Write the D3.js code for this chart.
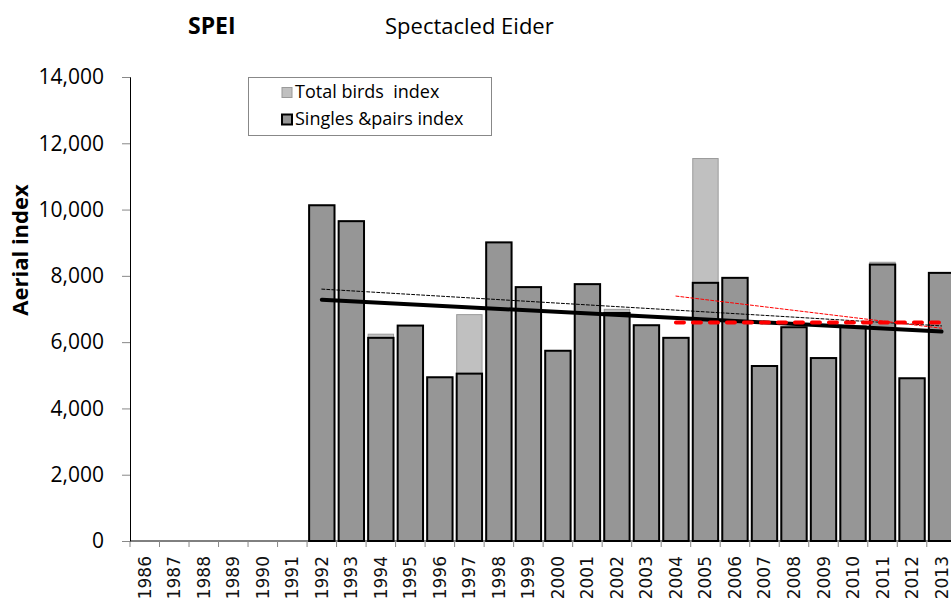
<!DOCTYPE html>
<html>
<head>
<meta charset="utf-8">
<script src="https://cdn.jsdelivr.net/npm/d3@7"></script>
<style>
  body { margin: 0; background: #fff; }
  svg { display: block; }
</style>
</head>
<body>
<div id="chart"></div>
<script>
// Data
// ==============================
var years = ["1986","1987","1988","1989","1990","1991","1992","1993","1994","1995","1996","1997","1998","1999",
             "2000","2001","2002","2003","2004","2005","2006","2007","2008","2009","2010","2011","2012","2013"];

// total birds index (null = no survey)
var totalBirds = [null,null,null,null,null,null,10130,9650,6240,6500,4940,6830,9010,7660,
                  5740,7750,6990,6510,6130,11540,7940,5280,6450,5520,6470,8410,4910,8090];

// singles & pairs index
var singlesPairs = [null,null,null,null,null,null,10130,9650,6130,6500,4940,5050,9010,7660,
                    5740,7750,6880,6510,6130,7790,7940,5280,6450,5520,6470,8340,4910,8090];

// trend lines: [start year, start value, end year, end value]
var trendSingles = ["1992", 7280, "2013", 6320];
var trendTotal = ["1992", 7600, "2013", 6490];
var trendTotalRecent = ["2004", 7390, "2013", 6420];
var trendSinglesRecent = ["2004", 6590, "2013", 6590];

var yTicks = [0, 2000, 4000, 6000, 8000, 10000, 12000, 14000];

// SVG area
// ==============================
var svgWidth = 951;
var svgHeight = 602;

var svg = d3.select("#chart")
  .append("svg")
  .attr("width", svgWidth)
  .attr("height", svgHeight);

var calibri = "'Open Sans', 'Liberation Sans', sans-serif";

// Scales
// ==============================
var xScale = d3.scaleBand()
  .domain(years)
  .range([130, 956.3])
  .paddingInner(0.14)
  .paddingOuter(0.07);

var yScale = d3.scaleLinear()
  .domain([0, 14000])
  .range([541, 77]);

var xCenter = function(yr) { return xScale(yr) + xScale.bandwidth() / 2; };

// Bars: total birds behind, singles & pairs in front
// ==============================
var rows = years.map(function(y, i) {
  return { year: y, total: totalBirds[i], singles: singlesPairs[i] };
});

svg.append("g").selectAll("rect")
  .data(rows.filter(d => d.total != null))
  .join("rect")
  .attr("x", d => xScale(d.year))
  .attr("y", d => yScale(d.total))
  .attr("width", xScale.bandwidth())
  .attr("height", d => yScale(0) - yScale(d.total))
  .attr("fill", "#c0c0c0")
  .attr("stroke", "#9a9a9a")
  .attr("stroke-width", 1);

svg.append("g").selectAll("rect")
  .data(rows.filter(d => d.singles != null))
  .join("rect")
  .attr("x", d => xScale(d.year))
  .attr("y", d => yScale(d.singles))
  .attr("width", xScale.bandwidth())
  .attr("height", d => yScale(0) - yScale(d.singles))
  .attr("fill", "#969696")
  .attr("stroke", "#000")
  .attr("stroke-width", 2);

// Axes
// ==============================
var yAxis = d3.axisLeft(yScale)
  .tickValues(yTicks)
  .tickSize(8)
  .tickFormat(d3.format(","));

var yAxisGroup = svg.append("g")
  .attr("transform", "translate(130,0)")
  .call(yAxis);
yAxisGroup.select(".domain").attr("stroke", "#000").attr("stroke-width", 1);
yAxisGroup.selectAll(".tick line").attr("stroke", "#888");
yAxisGroup.selectAll("text")
  .attr("x", -26)
  .attr("font-family", calibri)
  .attr("font-size", "21px")
  .attr("fill", "#000");

// x axis: ticks sit on category boundaries
var xAxisGroup = svg.append("g")
  .attr("transform", "translate(0,541)");
xAxisGroup.append("line")
  .attr("x1", 130).attr("x2", 956.3)
  .attr("stroke", "#000");
xAxisGroup.selectAll(".bt")
  .data(years)
  .join("line")
  .attr("class", "bt")
  .attr("x1", d => xScale(d) - xScale.step() * 0.07)
  .attr("x2", d => xScale(d) - xScale.step() * 0.07)
  .attr("y1", 0).attr("y2", 6)
  .attr("stroke", "#888");
xAxisGroup.selectAll("text")
  .data(years)
  .join("text")
  .attr("transform", d => `translate(${xCenter(d) + 6}, 15) rotate(-90)`)
  .attr("text-anchor", "end")
  .attr("font-family", "'DejaVu Sans', sans-serif")
  .attr("font-size", "17px")
  .attr("fill", "#111")
  .text(d => d);

// Trend lines
// ==============================
function trend(t, color, width, dash) {
  svg.append("line")
    .attr("x1", xCenter(t[0])).attr("y1", yScale(t[1]))
    .attr("x2", xCenter(t[2])).attr("y2", yScale(t[3]))
    .attr("stroke", color)
    .attr("stroke-width", width)
    .attr("stroke-dasharray", dash)
    .attr("stroke-linecap", "round");
}
trend(trendTotal, "#000", 1, "3,2");
trend(trendTotalRecent, "#ff0000", 1, "3,2");
trend(trendSingles, "#000", 4, null);
trend(trendSinglesRecent, "#ff0000", 4, "8,9");

// Legend
// ==============================
var legend = svg.append("g");
legend.append("rect")
  .attr("x", 248.5).attr("y", 77.5)
  .attr("width", 243).attr("height", 58)
  .attr("fill", "#fff")
  .attr("stroke", "#888");

var legendItems = [
  { label: "Total birds\u00a0 index", fill: "#c0c0c0", stroke: "#9a9a9a", sw: 1, y: 92 },
  { label: "Singles &pairs index", fill: "#969696", stroke: "#000", sw: 2, y: 119 }
];
legendItems.forEach(function(it) {
  legend.append("rect")
    .attr("x", 282).attr("y", it.y - 4.5)
    .attr("width", 10).attr("height", 10)
    .attr("fill", it.fill)
    .attr("stroke", it.stroke)
    .attr("stroke-width", it.sw);
  legend.append("text")
    .attr("x", 295).attr("y", it.y + 6)
    .attr("font-family", calibri)
    .attr("font-size", "18px")
    .attr("fill", "#000")
    .text(it.label);
});

// Titles
// ==============================
svg.append("text")
  .attr("x", 188).attr("y", 34)
  .attr("font-family", calibri)
  .attr("font-weight", "bold")
  .attr("font-size", "23px")
  .text("SPEI");

svg.append("text")
  .attr("x", 385).attr("y", 34)
  .attr("font-family", calibri)
  .attr("font-size", "22px")
  .text("Spectacled Eider");

svg.append("text")
  .attr("transform", "translate(28, 250) rotate(-90)")
  .attr("text-anchor", "middle")
  .attr("font-family", calibri)
  .attr("font-weight", "bold")
  .attr("font-size", "22px")
  .text("Aerial index");
</script>
</body>
</html>
